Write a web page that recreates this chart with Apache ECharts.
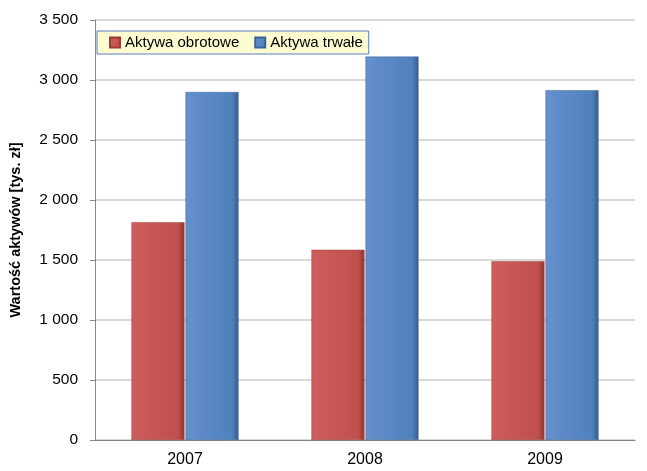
<!DOCTYPE html>
<html>
<head>
<meta charset="utf-8">
<script src="https://cdn.jsdelivr.net/npm/echarts@6/dist/echarts.min.js"></script>
<style>
  html, body { margin: 0; padding: 0; background: #ffffff; }
  #chart { width: 647px; height: 471px; }
</style>
</head>
<body>
<div id="chart"></div>
<script>
// Asset values per year, thousands of PLN
const years = ['2007', '2008', '2009'];
const currentAssets = [1815, 1585, 1490];
const fixedAssets = [2900, 3195, 2915];
const seriesNames = ['Aktywa obrotowe', 'Aktywa trwałe'];

const FONT = '"Liberation Sans", Arial, sans-serif';

function barGradient(light, mid, dark) {
  return new echarts.graphic.LinearGradient(0, 0, 1, 0, [
    { offset: 0, color: light },
    { offset: 0.88, color: mid },
    { offset: 1, color: dark }
  ]);
}

const chart = echarts.init(document.getElementById('chart'), null, { renderer: 'canvas' });
chart.setOption({
  animation: false,
  backgroundColor: '#ffffff',
  grid: { left: 90, right: 12, top: 20, bottom: 31, containLabel: false },
  legend: {
    left: 97, top: 31,
    data: seriesNames,
    itemWidth: 10, itemHeight: 10, itemGap: 15,
    backgroundColor: '#fdfbd0',
    borderColor: '#5b7fbf', borderWidth: 1,
    padding: [4, 6, 4, 12],
    textStyle: { fontFamily: FONT, fontSize: 15, color: '#000', padding: [0, 0, 0, 0] },
    icon: 'rect'
  },
  xAxis: {
    type: 'category',
    data: years,
    axisLine: { lineStyle: { color: '#868686' } },
    axisTick: { show: false },
    axisLabel: { fontFamily: FONT, fontSize: 16, color: '#000', margin: 12 }
  },
  yAxis: {
    type: 'value',
    min: 0, max: 3500, interval: 500,
    name: 'Wartość aktywów [tys. zł]',
    nameLocation: 'middle',
    nameGap: 72,
    nameTextStyle: { fontFamily: FONT, fontSize: 14.5, fontWeight: 'bold', color: '#000' },
    axisLine: { show: true, lineStyle: { color: '#868686' } },
    axisTick: { show: true, length: 5, lineStyle: { color: '#868686' } },
    splitLine: { lineStyle: { color: '#d9d9d9', width: 2 } },
    axisLabel: {
      fontFamily: FONT, fontSize: 15.5, color: '#000', margin: 17,
      formatter: v => v >= 1000 ? String(v).replace(/\B(?=(\d{3})+(?!\d))/g, ' ') : String(v)
    }
  },
  series: [
    {
      name: seriesNames[0],
      type: 'bar',
      data: currentAssets,
      barWidth: 53,
      barGap: '2%',
      itemStyle: {
        color: barGradient('#cd5e5b', '#c0504d', '#8f3431'),
        borderColor: '#9e3b38', borderWidth: 0.5
      }
    },
    {
      name: seriesNames[1],
      type: 'bar',
      data: fixedAssets,
      barWidth: 53,
      itemStyle: {
        color: barGradient('#6590cc', '#4f81bd', '#375d8c'),
        borderColor: '#3c6394', borderWidth: 0.5
      }
    }
  ]
});
</script>
</body>
</html>
